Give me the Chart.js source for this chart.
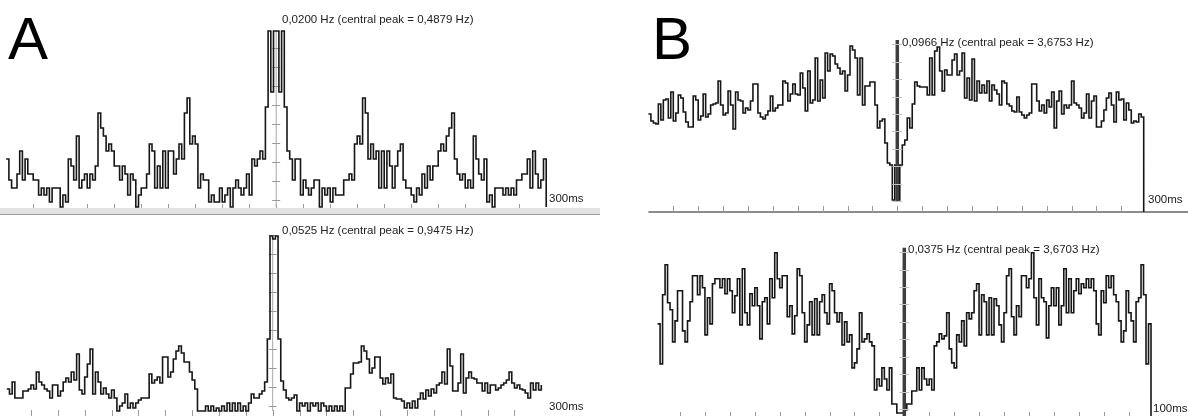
<!DOCTYPE html>
<html>
<head>
<meta charset="utf-8">
<script src="https://cdn.jsdelivr.net/npm/chart.js@4.4.1/dist/chart.umd.min.js"></script>
<style>
  body { margin: 0; background: #fff; }
  #wrap { position: relative; width: 1188px; height: 416px; overflow: hidden; background: #fff; font-family: "Liberation Sans", Arial, sans-serif; }
  canvas { position: absolute; }
  .lbl { position: absolute; font-size: 11.5px; line-height: 13px; color: #222; white-space: nowrap; }
  .big { position: absolute; font-size: 60px; line-height: 60px; color: #000; }
  .band { position: absolute; left: 0; top: 208px; width: 600px; height: 6px; background: #e2e2e2; border-bottom: 1px solid #9c9c9c; }
</style>
</head>
<body>
<div id="wrap">
  <div class="band"></div>
  <canvas id="aTop" width="600" height="200" style="left:0;top:20px"></canvas>
  <canvas id="aBot" width="600" height="194" style="left:0;top:222px"></canvas>
  <canvas id="bTop" width="568" height="200" style="left:620px;top:25px"></canvas>
  <canvas id="bBot" width="568" height="186" style="left:620px;top:230px"></canvas>

  <div class="big" style="left:8px;top:9px">A</div>
  <div class="big" style="left:652px;top:9px">B</div>

  <div class="lbl" style="left:282px;top:13px">0,0200 Hz (central peak = 0,4879 Hz)</div>
  <div class="lbl" style="left:549px;top:192px">300ms</div>
  <div class="lbl" style="left:282px;top:224px">0,0525 Hz (central peak = 0,9475 Hz)</div>
  <div class="lbl" style="left:549px;top:400px">300ms</div>
  <div class="lbl" style="left:902px;top:36px">0,0966 Hz (central peak = 3,6753 Hz)</div>
  <div class="lbl" style="left:1148px;top:193px">300ms</div>
  <div class="lbl" style="left:908px;top:243px">0,0375 Hz (central peak = 3,6703 Hz)</div>
  <div class="lbl" style="left:1153px;top:402px">100ms</div>
</div>
<script>
// autocorrelogram bins (left side ends at 0 ms, right side starts at 0 ms)
const aTopLeft = [48,27,19,19,33,56,27,48,33,33, 27,27,12,19,12,19,5,19,19,19, 0,12,5,48,41,27,71,19,27,33,
  19,33,27,41,94,79,71,56,63,56, 41,41,27,41,33,12,33,27,0,12, 19,19,33,63,56,19,41,19,56,19,
  56,56,33,48,63,48,94,109,63,71, 63,19,33,27,27,5,12,5,5,19, 5,12,19,0,19,27,19,12,19,33,
  12,48,41,48,56,48,100,176,115,176];
const aTopRight = [176,115,176,100,56,48,27,48,48,12, 27,19,12,19,27,27,0,19,12,19, 5,19,12,12,12,27,27,33,27,63,
  71,63,109,94,48,63,48,56,19,56, 19,56,41,19,41,56,63,27,19,19, 12,5,19,12,33,19,41,27,41,41,
  56,63,56,71,79,94,48,33,27,33, 19,27,19,71,48,33,27,48,5,12, 0,19,19,19,12,19,12,19,12,27,
  27,33,33,48,19,56,33,19,27,48];

const aBotLeft = [22,17,29,13,13,13,20,20,22,26,22, 39,29,26,22,20,13,26,26,15,20, 29,33,29,39,31,57,21,17,34,47,
  62,17,39,29,17,23,17,13,21,13, 0,5,8,17,3,8,3,8,11,13,13, 13,37,28,31,34,28,54,54,34,39,
  52,60,65,58,49,49,39,31,22,0,0, 0,5,0,5,0,3,0,5,0,8, 0,8,0,8,0,5,0,8,17,13,
  13,17,20,29,72,175];
const aBotRight = [172,175, 72,30,21,13,11,13,16,0,8,5, 8,0,8,5,8,0,8,5,0,5, 0,5,0,5,0,23,23,37,48,48,
  49,65,60,52,38,43,54,54,33,27, 33,28,37,13,12,12,10,3,8,3, 10,3,12,18,12,21,15,22,18,26,
  28,39,27,62,45,20,20,28,57,18, 33,39,33,32,28,28,20,28,18,26, 26,21,23,26,28,31,39,28,23,26,
  22,21,18,13,28,21,28,21,26,26];

const bTopLeft = [87,80,78,77,97,81,101,102,83,109, 80,88,106,103,89,79,74,74,105,101, 81,85,107,84,87,96,97,98,120,96,
  86,88,110,96,72,109,101,100,88,93, 91,100,117,117,88,84,82,86,90,105, 90,93,96,96,120,118,100,107,117,107,
  106,128,113,90,130,98,101,143,100,121, 103,148,130,147,145,137,133,127,130,110, 126,155,151,143,106,143,96,115,115,119,
  119,96,73,80,82,58,38,36,1,36];
const bTopRight = [1, 36,56,61,83,73,97,119,115,114,114, 114,106,143,106,150,154,130,110,131,126, 126,141,147,126,130,148,103,123,101,142,
  100,120,108,116,108,120,100,116,111,107, 96,120,118,97,95,90,89,104,89,86, 83,86,88,117,117,100,90,96,88,101,
  94,109,73,100,110,87,96,93,96,120, 98,96,93,83,88,107,83,100,105,74, 74,80,91,103,108,96,79,109,101,102,
  81,98,91,78,80,79,87,84];

const bBotLeft = [90, 50,119,149,111,104,72,93,123,123,83, 72,93,112,138,138,119,138,126,79,116, 90,130,135,135,126,135,120,135,123,101,
  118,135,89,145,101,89,120,108,126,108, 75,112,116,90,135,116,161,135,126,138, 138,97,108,80,98,145,138,101,72,89,
  112,79,115,79,112,119,101,90,130,123, 101,92,101,69,92,72,79,46,51,65, 101,72,75,80,72,68,24,35,28,46,
  35,24,46,10,10,1,1,1];
const bBotRight = [4,10,10,23,23,46,24,46,35,29, 35,24,68,72,80,75,78,101,65,51, 46,79,72,93,68,101,95,101,123,130,
  79,119,112,79,116,79,115,108,89,72, 101,138,145,97,79,108,97,138,138,126, 135,161,116,89,135,116,112,76,108,126,
  108,126,89,108,145,101,135,101,123,135, 120,130,126,135,126,135,123,90,79,123, 111,138,126,138,119,112,93,72,83,123,
  101,93,72,112,116,149,119,50,90];

const binMs = { aTop: 3, aBot: 3, bTop: 3, bBot: 1 };

function toPoints(left, right, bin, yMin) {
  const pts = [];
  left.forEach((v, i) => pts.push({ x: (i - left.length) * bin, y: v }));
  right.forEach((v, i) => pts.push({ x: i * bin, y: v }));
  pts.push({ x: right.length * bin, y: yMin }); // closing drop at the right end
  return pts;
}

// draws the x tick marks, optional axis line and the vertical line through 0 ms
const histAxes = {
  id: 'histAxes',
  beforeDatasetsDraw(chart, args, o) {
    const ctx = chart.ctx, x = chart.scales.x, y = chart.scales.y;
    ctx.save();
    if (o.axisLine) {
      const ay = y.getPixelForValue(o.tickBase);
      ctx.strokeStyle = '#8c8c8c';
      ctx.lineWidth = 2;
      ctx.beginPath(); ctx.moveTo(x.left, ay); ctx.lineTo(chart.width, ay); ctx.stroke();
    }
    ctx.strokeStyle = '#9a9a9a';
    ctx.lineWidth = 1;
    const by = y.getPixelForValue(o.tickBase);
    for (let v = -o.tickMax; v <= o.tickMax + 1e-6; v += o.tickStep) {
      const px = Math.round(x.getPixelForValue(v)) + 0.5;
      ctx.beginPath(); ctx.moveTo(px, by + o.tickUp); ctx.lineTo(px, by + o.tickDown); ctx.stroke();
    }
    ctx.restore();
    if (!o.front) drawCenter(chart, o);
  },
  afterDatasetsDraw(chart, args, o) {
    if (o.front) drawCenter(chart, o);
  }
};

function drawCenter(chart, o) {
  const ctx = chart.ctx, x = chart.scales.x, y = chart.scales.y;
  const cx = x.getPixelForValue(0);
  ctx.save();
  ctx.strokeStyle = o.centerColor;
  ctx.lineWidth = o.centerWidth;
  ctx.beginPath();
  ctx.moveTo(cx, y.getPixelForValue(o.centerFrom));
  ctx.lineTo(cx, y.getPixelForValue(y.max));
  ctx.stroke();
  ctx.strokeStyle = o.centerTickColor;
  ctx.lineWidth = 1;
  for (let v = o.centerTickStart; v <= y.max; v += o.centerTickStep) {
    const py = Math.round(y.getPixelForValue(v)) + 0.5;
    ctx.beginPath(); ctx.moveTo(cx - o.centerTickLen, py); ctx.lineTo(cx + o.centerTickLen, py); ctx.stroke();
  }
  ctx.restore();
}

function makeChart(id, left, right, bin, xr, yr, pad, axes) {
  return new Chart(document.getElementById(id).getContext('2d'), {
    type: 'line',
    data: {
      datasets: [{
        data: toPoints(left, right, bin, yr[0]),
        stepped: true,
        borderColor: '#161616',
        borderWidth: 1.6,
        pointRadius: 0,
        fill: false,
        clip: false
      }]
    },
    options: {
      responsive: false,
      animation: false,
      events: [],
      layout: { padding: pad },
      scales: {
        x: { type: 'linear', min: xr[0], max: xr[1], display: false },
        y: { type: 'linear', min: yr[0], max: yr[1], display: false }
      },
      plugins: { legend: { display: false }, tooltip: { enabled: false }, histAxes: axes }
    },
    plugins: [histAxes]
  });
}

const thinCenter = { centerColor: '#a8a8a8', centerWidth: 1, centerTickColor: '#9a9a9a', centerTickLen: 4, front: false };
const thickCenter = { centerColor: '#3e3e3e', centerWidth: 3.5, centerTickColor: '#c4c4c4', centerTickLen: 5, front: true };

makeChart('aTop', aTopLeft, aTopRight, binMs.aTop, [-300, 300], [0, 176],
  { left: 6.2, right: 53.8, top: 11, bottom: 13 },
  Object.assign({ tickBase: 0, tickStep: 30, tickMax: 270, tickUp: -3, tickDown: 1, centerFrom: 0, centerTickStart: 7, centerTickStep: 19 }, thinCenter));

makeChart('aBot', aBotLeft, aBotRight, binMs.aBot, [-300, 300], [0, 176],
  { left: 4.1, right: 58.7, top: 13, bottom: 5 },
  Object.assign({ tickBase: 0, tickStep: 30, tickMax: 270, tickUp: -1, tickDown: 5, centerFrom: 0, centerTickStart: 5, centerTickStep: 19 }, thinCenter));

makeChart('bTop', bTopLeft, bTopRight, binMs.bTop, [-300, 300], [-11, 161],
  { left: 28.4, right: 41.8, top: 15, bottom: 13 },
  Object.assign({ tickBase: -11, axisLine: true, tickStep: 30, tickMax: 270, tickUp: -6, tickDown: 0, centerFrom: 0, centerTickStart: 0, centerTickStep: 17.4 }, thickCenter));

makeChart('bBot', bBotLeft, bBotRight, binMs.bBot, [-100, 100], [-2, 166],
  { left: 35.1, right: 34.5, top: 17.7, bottom: 0 },
  Object.assign({ tickBase: -2, tickStep: 10, tickMax: 90, tickUp: -4, tickDown: 0, centerFrom: -2, centerTickStart: 5, centerTickStep: 17.4 }, thickCenter));
</script>
</body>
</html>
